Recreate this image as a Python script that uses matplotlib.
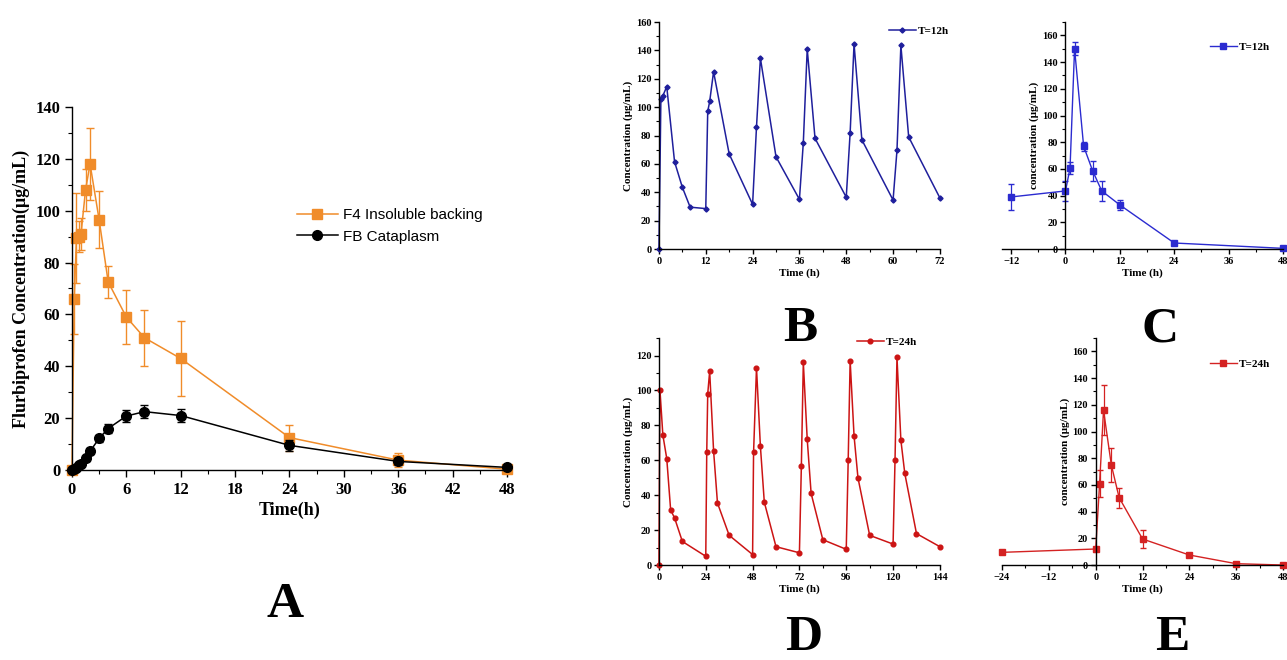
import numpy as np
import matplotlib
matplotlib.use('Agg')
import matplotlib.pyplot as plt
from matplotlib.ticker import MultipleLocator

plt.rcParams['font.family'] = ['Liberation Serif', 'DejaVu Serif']
plt.rcParams['font.weight'] = 'bold'
plt.rcParams['axes.labelweight'] = 'bold'
plt.rcParams['axes.linewidth'] = 1.0
plt.rcParams['xtick.direction'] = 'out'
plt.rcParams['ytick.direction'] = 'out'

# A: single dose, two formulations
t_a = [0, 0.25, 0.5, 0.75, 1, 1.5, 2, 3, 4, 6, 8, 12, 24, 36, 48]
f4_mean = [0, 66, 89.5, 90, 91, 108, 118, 96.5, 72.5, 59, 51, 43, 12.5, 3.8, 0.3]
f4_sd = [0, 13.5, 17.5, 6, 6, 8, 14, 11, 6.3, 10.3, 10.8, 14.3, 5, 2.7, 0]
fb_mean = [0, 0.3, 0.8, 1.8, 2.5, 4.5, 7.2, 12.2, 16, 20.8, 22.5, 21, 9.5, 3.3, 1.0]
fb_sd = [0, 0.3, 0.5, 0.6, 0.8, 1.0, 1.2, 1.3, 1.8, 2.3, 2.5, 2.5, 2.0, 1.5, 0.3]

# B: repeated dosing T=12h
t_b = [0, 0.5, 1, 2, 4, 6, 8, 12, 12.5, 13, 14, 18, 24, 25, 26, 30, 36,
       37, 38, 40, 48, 49, 50, 52, 60, 61, 62, 64, 72]
c_b = [0, 106, 108, 114.5, 61.5, 43.5, 29.5, 28.5, 97, 104, 125, 67, 31.5, 86, 134.5, 65, 35,
       75, 141, 78, 36.5, 82, 144.5, 77, 34.5, 69.5, 143.5, 79, 36]

# C: T=12h with sd
t_c = [-12, 0, 1, 2, 4, 6, 8, 12, 24, 48]
c_c = [39, 43.5, 60.5, 150, 77, 58.5, 43.5, 33, 4.5, 0.5]
sd_c = [10, 7.5, 4.5, 5, 3.5, 7.5, 7.5, 3.5, 1, 0]

# D: repeated dosing T=24h
t_d = [0, 0.5, 2, 4, 6, 8, 12, 24, 24.5, 25, 26, 28, 30, 36, 48,
       48.5, 50, 52, 54, 60, 72, 73, 74, 76, 78, 84, 96,
       97, 98, 100, 102, 108, 120, 121, 122, 124, 126, 132, 144]
c_d = [0, 100.5, 74.5, 61, 31.5, 27, 13.5, 5, 64.5, 98, 111, 65.5, 35.5, 17, 6,
       64.5, 113, 68, 36, 10.5, 7, 57, 116, 72, 41, 14.5, 9,
       60, 117, 74, 50, 17, 12, 60, 119, 71.5, 52.5, 18, 10.5]

# E: T=24h with sd
t_e = [-24, 0, 1, 2, 4, 6, 12, 24, 36, 48]
c_e = [9.5, 12, 61, 116, 75, 50.5, 19.5, 7.5, 1, 0]
sd_e = [0.8, 1.5, 10, 18.5, 13, 7.5, 7, 1, 0.5, 0]

orange = '#f08c2a'
navy = '#1f1f9c'
blue = '#2b2bd0'
red = '#cc1414'
red2 = '#d42222'


def err_series(ax, t, c, sd, color, marker, ms, lw, cap, label):
    # error bars first, then the line that carries the legend entry
    ax.errorbar(t, c, yerr=sd, fmt='none', ecolor=color, capsize=cap,
                elinewidth=lw * 0.9, clip_on=False)
    ax.plot(t, c, color=color, marker=marker, ms=ms, lw=lw, label=label, clip_on=False)


def small_axes(ax, xmaj, ymaj, xlim, ylim, ylab):
    ax.set_xlim(*xlim)
    ax.set_ylim(*ylim)
    ax.xaxis.set_major_locator(MultipleLocator(xmaj))
    ax.xaxis.set_minor_locator(MultipleLocator(xmaj / 2))
    ax.yaxis.set_major_locator(MultipleLocator(ymaj))
    ax.yaxis.set_minor_locator(MultipleLocator(ymaj / 2))
    ax.spines['top'].set_visible(False)
    ax.spines['right'].set_visible(False)
    ax.tick_params(which='major', length=3.5, width=1, labelsize=7.5, pad=2)
    ax.tick_params(which='minor', length=2, width=0.8)
    ax.set_xlabel('Time (h)', fontsize=8, labelpad=2)
    ax.set_ylabel(ylab, fontsize=8, labelpad=2)


def small_legend(ax, x, y):
    ax.legend(loc='upper left', bbox_to_anchor=(x, y), frameon=False, fontsize=8,
              handlelength=2.4, handletextpad=0.2, borderpad=0, borderaxespad=0)


fig = plt.figure(figsize=(12.87, 6.60), dpi=100)

# panel A
ax = fig.add_axes([0.0559, 0.2879, 0.338, 0.55])
err_series(ax, t_a, f4_mean, f4_sd, orange, 's', 6.5, 1.1, 3, 'F4 Insoluble backing')
err_series(ax, t_a, fb_mean, fb_sd, 'black', 'o', 7, 1.1, 3, 'FB Cataplasm')
ax.set_xlim(0, 48)
ax.set_ylim(0, 140)
ax.xaxis.set_major_locator(MultipleLocator(6))
ax.xaxis.set_minor_locator(MultipleLocator(3))
ax.yaxis.set_major_locator(MultipleLocator(20))
ax.yaxis.set_minor_locator(MultipleLocator(10))
ax.spines['top'].set_visible(False)
ax.spines['right'].set_visible(False)
ax.tick_params(which='major', length=5, width=1, labelsize=12)
ax.tick_params(which='minor', length=3, width=0.8)
ax.set_xlabel('Time(h)', fontsize=13, labelpad=3)
ax.set_ylabel('Flurbiprofen Concentration(μg/mL)', fontsize=13, labelpad=4)
ax.legend(loc='upper left', bbox_to_anchor=(0.517, 0.722), frameon=False,
          prop={'family': 'Liberation Sans', 'weight': 'normal', 'size': 11},
          handlelength=2.7, handletextpad=0.3, labelspacing=0.5,
          borderpad=0, borderaxespad=0)

# panel B
ax = fig.add_axes([0.5120, 0.6227, 0.2183, 0.3439])
ax.plot(t_b, c_b, color=navy, marker='D', ms=2.6, lw=1.1, label='T=12h', clip_on=False)
small_axes(ax, 12, 20, (0, 72), (0, 160), 'Concentration (μg/mL)')
small_legend(ax, 0.819, 0.982)

# panel C
ax = fig.add_axes([0.7786, 0.6227, 0.2183, 0.3439])
err_series(ax, t_c, c_c, sd_c, blue, 's', 4.5, 1.0, 2, 'T=12h')
small_axes(ax, 12, 20, (-14, 48), (0, 170), 'concentration (μg/mL)')
ax.spines['left'].set_position(('data', 0))
small_legend(ax, 0.740, 0.912)

# panel D
ax = fig.add_axes([0.5120, 0.1439, 0.2183, 0.3439])
ax.plot(t_d, c_d, color=red, marker='o', ms=3.4, lw=1.1, label='T=24h', clip_on=False)
small_axes(ax, 24, 20, (0, 144), (0, 130), 'Concentration (μg/mL)')
small_legend(ax, 0.705, 1.004)

# panel E
ax = fig.add_axes([0.7786, 0.1439, 0.2183, 0.3439])
err_series(ax, t_e, c_e, sd_e, red2, 's', 4.5, 1.0, 2, 'T=24h')
small_axes(ax, 12, 20, (-24, 48), (0, 170), 'concentration (μg/mL)')
ax.spines['left'].set_position(('data', 0))
small_legend(ax, 0.740, 0.907)

# panel letters (baseline positions in pixels)
for letter, x, y in [('A', 285, 617), ('B', 800, 341), ('C', 1160, 341),
                     ('D', 804, 650), ('E', 1172, 650)]:
    fig.text(x / 1287, 1 - y / 660, letter, fontsize=37, fontweight='bold',
             ha='center', va='baseline')

fig.savefig('out.png', dpi=100)
